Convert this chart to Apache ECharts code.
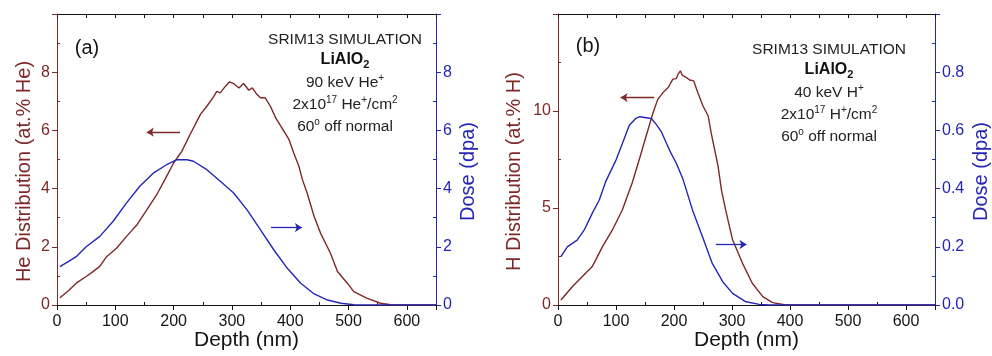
<!DOCTYPE html>
<html>
<head>
<meta charset="utf-8">
<script src="https://cdn.jsdelivr.net/npm/echarts@6/dist/echarts.min.js"></script>
<style>
  html, body { margin: 0; padding: 0; background: #fff; }
  #chart { width: 992px; height: 356px; }
</style>
</head>
<body>
<div id="chart"></div>
<script>
// (a) 90 keV He+ -> LiAlO2
const heDepth = [5, 20, 33, 50, 60, 73, 85, 102, 119, 130, 137, 154, 171, 188, 200, 214, 228, 246, 257, 269, 274, 280, 289, 296, 303, 312, 320, 329, 335, 343, 349, 357, 366, 375, 386, 398, 406, 415, 421, 429, 441, 452, 469, 481, 498, 509, 532, 555, 575, 650];
const heConc = [0.25, 0.5, 0.75, 0.98, 1.12, 1.32, 1.66, 1.95, 2.35, 2.6, 2.75, 3.27, 3.79, 4.42, 4.88, 5.28, 5.85, 6.55, 6.83, 7.17, 7.34, 7.29, 7.52, 7.67, 7.61, 7.46, 7.61, 7.38, 7.46, 7.23, 7.12, 7.12, 6.83, 6.43, 6.08, 5.68, 5.22, 4.76, 4.3, 3.85, 3.04, 2.47, 1.78, 1.15, 0.75, 0.46, 0.23, 0.06, 0, 0];
const doseADepth = [5, 20, 33, 50, 73, 96, 119, 142, 165, 188, 205, 223, 234, 257, 280, 303, 326, 349, 372, 395, 418, 441, 464, 487, 509, 532, 650];
const doseA = [1.32, 1.5, 1.66, 2.0, 2.35, 2.87, 3.5, 4.08, 4.53, 4.82, 4.99, 4.99, 4.94, 4.65, 4.25, 3.85, 3.27, 2.58, 1.89, 1.26, 0.75, 0.38, 0.17, 0.06, 0.01, 0, 0];

// (b) 40 keV H+ -> LiAlO2
const hDepth = [5, 25, 42, 59, 77, 94, 111, 128, 141, 152, 164, 172, 181, 190, 198, 204, 207, 211, 214, 221, 227, 234, 241, 250, 259, 264, 270, 276, 282, 289, 301, 318, 335, 353, 370, 393, 650];
const hConc = [0.26, 0.95, 1.47, 1.98, 3.02, 3.88, 4.91, 6.3, 7.59, 8.71, 9.92, 10.6, 10.95, 11.21, 11.64, 11.67, 11.9, 12.07, 11.85, 11.73, 11.6, 11.55, 10.95, 10.26, 9.74, 8.88, 8.02, 7.15, 5.9, 4.9, 3.36, 2.16, 1.12, 0.43, 0.12, 0, 0];
const doseBDepth = [5, 16, 33, 45, 59, 71, 82, 100, 111, 123, 134, 141, 161, 170, 178, 187, 195, 204, 215, 232, 249, 266, 284, 301, 324, 347, 364, 650];
const doseB = [0.166, 0.2, 0.223, 0.257, 0.315, 0.36, 0.423, 0.498, 0.555, 0.618, 0.641, 0.647, 0.641, 0.619, 0.596, 0.556, 0.521, 0.487, 0.435, 0.326, 0.235, 0.143, 0.08, 0.04, 0.011, 0.002, 0, 0];

// arrows: [from depth, to depth, level]
const arrowHeA = [211, 154, 5.94];
const arrowDoseA = [367, 420, 2.66];
const arrowHB = [166, 108, 10.69];
const arrowDoseB = [272, 325, 0.208];

const notesA = ['{n|SRIM13 SIMULATION}', '{b|LiAlO}{bsub|2}', '{n|90 keV He}{sup|+}', '{n|2x10}{sup|17}{n| He}{sup|+}{n|/cm}{sup|2}', '{n|60}{sup|o}{n| off normal}'];
const notesB = ['{n|SRIM13 SIMULATION}', '{b|LiAlO}{bsub|2}', '{n|40 keV H}{sup|+}', '{n|2x10}{sup|17}{n| H}{sup|+}{n|/cm}{sup|2}', '{n|60}{sup|o}{n| off normal}'];

const FONT = '"Liberation Sans", Arial, sans-serif';
const BROWN = '#7e2828';
const BLUE = '#2626b4';
const INK = '#151515';

const zip = (xs, ys) => xs.map((x, i) => [x, ys[i]]);

function depthAxis(grid, pos) {
  const bottom = pos === 'bottom';
  return {
    type: 'value', gridIndex: grid, position: pos, min: 0, max: 650,
    interval: bottom ? 100 : 50,
    name: bottom ? 'Depth (nm)' : '', nameLocation: 'middle', nameGap: 25, nameMoveOverlap: false,
    nameTextStyle: { fontSize: 21, color: INK },
    axisLine: { show: true, onZero: false, lineStyle: { color: INK, width: 1 } },
    axisTick: { show: true, inside: !bottom, length: bottom ? 5 : 4, lineStyle: { color: INK } },
    minorTick: { show: bottom, splitNumber: 2, length: -3, lineStyle: { color: INK } },
    axisLabel: { show: bottom, fontSize: 16, color: INK, margin: 9, showMaxLabel: false },
    splitLine: { show: false }
  };
}

function valueAxis(grid, pos, max, step, name, color, gap, digits) {
  return {
    type: 'value', gridIndex: grid, position: pos, min: 0, max: max, interval: step,
    name: name, nameLocation: 'middle', nameRotate: 90, nameGap: gap, nameMoveOverlap: false,
    nameTextStyle: { fontSize: 20, color: color, padding: [0, 24, 0, 0] },
    axisLine: { show: true, onZero: false, lineStyle: { color: color, width: 1 } },
    axisTick: { show: true, inside: false, length: 5, lineStyle: { color: color } },
    minorTick: { show: true, splitNumber: 2, length: -3, lineStyle: { color: color } },
    axisLabel: {
      fontSize: 16, color: color, margin: 7, showMaxLabel: false,
      formatter: v => v.toFixed(digits)
    },
    splitLine: { show: false }
  };
}

function arrow(a, color) {
  return {
    silent: true, animation: false, symbol: ['none', 'arrow'], symbolSize: 7,
    label: { show: false },
    lineStyle: { color: color, width: 1.3, type: 'solid' },
    data: [[{ coord: [a[0], a[2]] }, { coord: [a[1], a[2]] }]]
  };
}

function curve(name, xs, ys, xi, yi, color, arr) {
  return {
    name: name, type: 'line', xAxisIndex: xi, yAxisIndex: yi,
    data: zip(xs, ys), showSymbol: false, symbol: 'none',
    lineStyle: { color: color, width: 1.4 }, itemStyle: { color: color },
    markLine: arrow(arr, color)
  };
}

const rich = {
  n: { fontSize: 15.5, lineHeight: 20, fontFamily: FONT, fill: '#222' },
  b: { fontSize: 16, lineHeight: 20, fontFamily: FONT, fontWeight: 'bold', fill: '#111' },
  sup: { fontSize: 10, lineHeight: 10, fontFamily: FONT, verticalAlign: 'top', fill: '#222' },
  bsub: { fontSize: 11, lineHeight: 11, fontFamily: FONT, fontWeight: 'bold', verticalAlign: 'bottom', fill: '#111' }
};

function noteBlock(lines, x, ys) {
  return lines.map((t, i) => ({
    type: 'text', x: x, y: ys[i], silent: true,
    style: { text: t, rich: rich, align: 'center', verticalAlign: 'middle', font: '15px ' + FONT, fill: '#222' }
  }));
}

const chart = echarts.init(document.getElementById('chart'), null, { renderer: 'canvas' });

chart.setOption({
  animation: false,
  backgroundColor: '#fff',
  textStyle: { fontFamily: FONT },
  grid: [
    { left: 57, top: 14, width: 379, height: 291, outerBoundsMode: 'none' },
    { left: 558, top: 14, width: 377, height: 291, outerBoundsMode: 'none' }
  ],
  xAxis: [depthAxis(0, 'bottom'), depthAxis(0, 'top'), depthAxis(1, 'bottom'), depthAxis(1, 'top')],
  yAxis: [
    valueAxis(0, 'left', 10, 2, 'He Distribution (at.% He)', BROWN, 23, 0),
    valueAxis(0, 'right', 10, 2, 'Dose (dpa)', BLUE, 22, 0),
    valueAxis(1, 'left', 15, 5, 'H Distribution (at.% H)', BROWN, 34, 0),
    valueAxis(1, 'right', 1, 0.2, 'Dose (dpa)', BLUE, 36, 1)
  ],
  series: [
    curve('He', heDepth, heConc, 0, 0, BROWN, arrowHeA),
    curve('Dose a', doseADepth, doseA, 0, 1, BLUE, arrowDoseA),
    curve('H', hDepth, hConc, 2, 2, BROWN, arrowHB),
    curve('Dose b', doseBDepth, doseB, 2, 3, BLUE, arrowDoseB)
  ],
  graphic: [
    { type: 'text', x: 87, y: 48, silent: true, style: { text: '(a)', font: '20px ' + FONT, fill: INK, align: 'center', verticalAlign: 'middle' } },
    { type: 'text', x: 588, y: 46, silent: true, style: { text: '(b)', font: '20px ' + FONT, fill: INK, align: 'center', verticalAlign: 'middle' } }
  ].concat(noteBlock(notesA, 345, [40, 60, 83, 105, 127]), noteBlock(notesB, 829, [50, 70, 93, 115, 137]))
});
</script>
</body>
</html>
